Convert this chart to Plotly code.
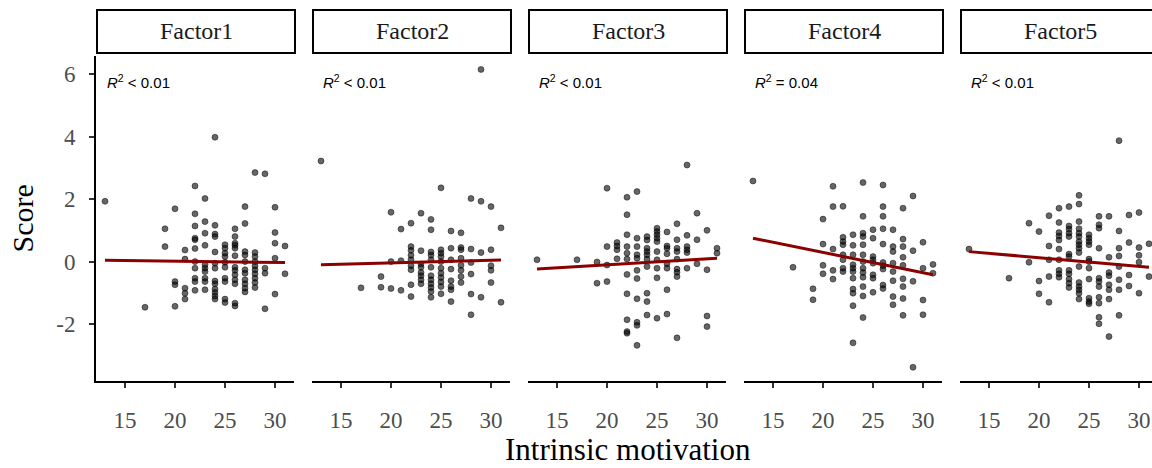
import plotly.graph_objects as go

# Intrinsic motivation score -> factor scores, one dict per factor (x: list of y)
factor1 = {
    13: [1.93],
    17: [-1.46],
    19: [1.05, 0.48],
    20: [1.69, -0.64, -0.74, -1.43],
    21: [0.37, 0.08, -0.85, -1.01, -1.2],
    22: [2.42, 1.53, 1.14, 0.75, 0.70, 0.42, 0.0, -0.21, -0.53, -0.64, -0.92],
    23: [2.02, 1.28, 0.91, 0.52, -0.10, -0.21, -0.32, -0.53, -0.64, -0.90],
    24: [3.98, 1.16, 0.88, 0.80, 0.31, -0.05, -0.21, -0.62, -0.71, -0.88, -0.99, -1.1, -1.2],
    25: [0.54, 0.43, 0.27, 0.16, -0.02, -0.18, -0.53, -0.64, -1.2, -1.31],
    26: [1.05, 0.80, 0.59, 0.52, 0.43, 0.19, -0.18, -0.28, -0.42, -0.58, -0.71, -1.33, -1.42],
    27: [1.76, 1.22, 0.32, 0.21, 0.0, -0.26, -0.37, -0.58, -0.71, -0.85, -0.97],
    28: [2.85, 0.29, 0.16, 0.0, -0.14, -0.26, -0.39, -0.53, -0.67, -0.83],
    29: [2.81, -0.21, -0.37, -1.51],
    30: [1.74, 0.93, 0.59, 0.11, -1.04],
    31: [0.50, -0.39],
}
factor2 = {
    13: [3.22],
    17: [-0.84],
    19: [-0.48, -0.82],
    20: [1.58, 0.0, -0.86],
    21: [1.04, 0.03, -0.92],
    22: [1.23, 0.48, 0.36, 0.20, 0.06, -0.13, -0.26, -0.74, -1.12],
    23: [1.55, 0.35, -0.08, -0.18, -0.35, -0.45, -0.58, -0.71],
    24: [1.35, 1.02, 0.31, 0.21, 0.06, -0.18, -0.45, -0.58, -0.71, -0.83, -0.96, -1.14],
    25: [2.36, 0.38, 0.27, 0.16, 0.0, -0.21, -0.37, -0.51, -0.65, -0.80, -1.03],
    26: [0.98, 0.43, 0.06, -0.24, -0.61, -0.80, -0.90, -1.28],
    27: [0.92, 0.45, 0.38, 0.11, -0.12, -0.28, -0.48, -0.67],
    28: [2.02, 0.40, -0.03, -0.40, -1.04, -1.70],
    29: [6.15, 1.93, 0.29, -1.14],
    30: [1.76, 0.38, -0.13, -0.28, -0.67],
    31: [1.08, -1.30],
}
factor3 = {
    13: [0.06],
    17: [0.06],
    19: [-0.01, -0.69],
    20: [2.35, 0.48, -0.11, -0.64],
    21: [0.61, 0.50, 0.38, 0.09],
    22: [2.06, 1.50, 0.86, 0.48, 0.27, 0.08, -0.41, -1.03, -1.86, -2.24, -2.29],
    23: [2.24, 0.75, 0.48, 0.22, 0.11, -0.28, -0.54, -1.19, -1.94, -2.04, -2.68],
    24: [0.80, 0.69, 0.43, 0.32, 0.22, 0.08, -0.16, -1.01, -1.28, -1.71],
    25: [1.07, 0.96, 0.86, 0.75, 0.64, 0.32, 0.06, -0.21, -0.52, -1.81],
    26: [0.95, 0.50, 0.43, 0.25, -0.07, -0.21, -0.90, -1.68],
    27: [1.21, 0.70, 0.43, 0.32, 0.08, -0.24, -0.34, -0.48, -2.44],
    28: [3.09, 0.84, 0.48, 0.38, 0.29, -0.21],
    29: [1.55, 0.70, -0.07],
    30: [1.00, -0.26, -1.74, -2.08],
    31: [0.43, 0.27],
}
factor4 = {
    13: [2.58],
    17: [-0.18],
    19: [-0.87, -1.22],
    20: [1.36, 0.56, -0.12, -0.39],
    21: [2.41, 1.76, 0.40, -0.28, -0.56],
    22: [1.77, 0.78, 0.64, 0.54, 0.22, 0.06, -0.21, -0.32],
    23: [0.86, 0.52, 0.22, -0.10, -0.21, -0.32, -0.53, -0.88, -1.01, -1.41, -2.60],
    24: [2.53, 1.45, 0.91, 0.80, 0.54, 0.22, 0.0, -0.21, -0.35, -0.50, -0.80, -1.10, -1.79],
    25: [1.02, 0.75, 0.16, 0.06, -0.05, -0.42, -0.53, -0.98],
    26: [2.45, 1.76, 1.45, 1.05, 0.56, -0.03, -0.13, -0.24, -0.75, -0.86],
    27: [1.02, 0.48, 0.32, -0.05, -0.32, -0.61, -1.12, -1.38],
    28: [1.71, 0.72, 0.48, 0.14, -0.12, -0.55, -0.80, -1.18, -1.72],
    29: [2.10, 0.35, -0.63, -3.38],
    30: [0.62, -0.21, -1.23, -1.70],
    31: [-0.09, -0.37],
}
factor5 = {
    13: [0.40],
    17: [-0.53],
    19: [1.23, -0.02],
    20: [0.96, -0.62, -1.03],
    21: [1.47, 0.50, 0.06, -0.48, -1.30],
    22: [1.71, 1.25, 0.93, 0.82, 0.69, 0.40, 0.06, -0.28, -0.39, -0.50],
    23: [1.76, 1.14, 1.04, 0.91, 0.80, 0.24, 0.16, -0.28, -0.39, -0.56, -0.69, -0.83],
    24: [2.12, 1.84, 1.28, 1.05, 0.91, 0.80, 0.64, 0.54, 0.43, 0.29, -0.16, -0.67, -0.80, -0.90, -1.01, -1.20],
    25: [0.86, 0.75, 0.64, 0.54, 0.08, 0.0, -0.21, -0.56, -1.17, -1.28, -1.35],
    26: [1.45, 1.18, 1.07, 0.43, -0.53, -0.64, -0.80, -1.14, -1.33, -1.78, -1.99],
    27: [1.45, 0.14, -0.35, -0.45, -0.74, -0.90, -1.20, -2.40],
    28: [3.87, 0.98, 0.43, 0.18, -0.16, -0.58, -0.90, -1.72],
    29: [1.49, 0.61, -0.43, -0.78],
    30: [1.57, 0.45, 0.20, -0.02, -1.01],
    31: [0.57, -0.48],
}

factor_names = ["Factor1", "Factor2", "Factor3", "Factor4", "Factor5"]
factor_data = [factor1, factor2, factor3, factor4, factor5]
r2_labels = ["&lt; 0.01", "&lt; 0.01", "&lt; 0.01", "= 0.04", "&lt; 0.01"]
# fitted linear trend, evaluated at the lowest and highest motivation score
fit_x = [13, 31]
fit_low = [0.04, -0.10, -0.24, 0.75, 0.32]
fit_high = [-0.03, 0.05, 0.11, -0.42, -0.18]

x_ticks = [15, 20, 25, 30]
y_ticks = [-2, 0, 2, 4, 6]
y_tick_text = ["-2", "0", "2", "4", "6"]

# ---- page geometry (pixels) ----
W, H = 1152, 468
PANEL_LEFT0, PANEL_STEP, PX_PER_UNIT = 96, 216, 10.0
X_MIN, X_MAX = 12.1, 31.9
Y_RANGE = [-3.82, 6.57]
PLOT_TOP, PLOT_BOTTOM = 56.3, 381.0
STRIP_TOP, STRIP_BOTTOM = 10.0, 53.0

SERIF = "Liberation Serif"
SANS = "Liberation Sans"


def fx(p):
    return p / W


def fy(p):
    return 1 - p / H


fig = go.Figure()
layout = dict(
    width=W, height=H,
    margin=dict(l=0, r=0, t=0, b=0),
    paper_bgcolor="white", plot_bgcolor="white",
    showlegend=False,
    shapes=[], annotations=[],
)

for i, (name, data) in enumerate(zip(factor_names, factor_data)):
    n = "" if i == 0 else str(i + 1)
    left = PANEL_LEFT0 + i * PANEL_STEP
    right_full = left + (X_MAX - X_MIN) * PX_PER_UNIT
    right = min(right_full, W)
    x_hi = X_MIN + (right - left) / PX_PER_UNIT

    xs, ys = [], []
    for xv, yl in data.items():
        xs += [xv] * len(yl)
        ys += yl

    fig.add_trace(go.Scatter(
        x=xs, y=ys, mode="markers",
        marker=dict(size=6, color="rgba(0,0,0,0.6)",
                    line=dict(width=1, color="rgba(0,0,0,0.45)")),
        xaxis="x" + n, yaxis="y" + n, hoverinfo="skip",
    ))
    fig.add_trace(go.Scatter(
        x=fit_x, y=[fit_low[i], fit_high[i]], mode="lines",
        line=dict(color="#8B0000", width=3),
        xaxis="x" + n, yaxis="y" + n, hoverinfo="skip",
    ))

    layout["xaxis" + n] = dict(
        domain=[fx(left), fx(right)], range=[X_MIN, x_hi], anchor="y" + n,
        showline=True, linecolor="black", linewidth=2,
        ticks="outside", ticklen=5, tickwidth=1.5, tickcolor="#333333",
        tickvals=x_ticks, showgrid=False, zeroline=False,
        tickfont=dict(family=SERIF, size=23, color="#4d4d4d"),
        ticklabelstandoff=12,
    )
    ycfg = dict(
        domain=[fy(PLOT_BOTTOM), fy(PLOT_TOP)], range=Y_RANGE, anchor="x" + n,
        showgrid=False, zeroline=False,
    )
    if i == 0:
        ycfg.update(
            showline=True, linecolor="black", linewidth=2,
            ticks="outside", ticklen=5, tickwidth=1.5, tickcolor="#333333",
            tickvals=y_ticks, ticktext=y_tick_text,
            tickfont=dict(family=SERIF, size=23, color="#4d4d4d"),
            ticklabelstandoff=9,
        )
    else:
        ycfg.update(visible=False)
    layout["yaxis" + n] = ycfg

    # facet strip
    layout["shapes"].append(dict(
        type="rect", xref="paper", yref="paper",
        x0=fx(left + 1), x1=fx(right_full + 1),
        y0=fy(STRIP_BOTTOM), y1=fy(STRIP_TOP),
        line=dict(color="black", width=2), fillcolor="white", layer="above",
    ))
    layout["annotations"].append(dict(
        text=name, xref="paper", yref="paper",
        x=fx(left + (right_full - left) / 2 + 1), y=fy((STRIP_TOP + STRIP_BOTTOM) / 2),
        xanchor="center", yanchor="middle", showarrow=False,
        font=dict(family=SERIF, size=24, color="#1a1a1a"),
    ))
    # R^2 label
    layout["annotations"].append(dict(
        text="<i>R</i><sup>2</sup> " + r2_labels[i],
        xref="x" + n, yref="y" + n, x=13, y=5.75,
        xanchor="left", yanchor="middle", showarrow=False,
        font=dict(family=SANS, size=15, color="black"),
    ))

layout["annotations"].append(dict(
    text="Score", xref="paper", yref="paper", x=fx(22), y=fy(218.5),
    textangle=-90, xanchor="center", yanchor="middle", showarrow=False,
    font=dict(family=SERIF, size=30, color="black"),
))
layout["annotations"].append(dict(
    text="Intrinsic motivation", xref="paper", yref="paper", x=fx(628), y=fy(449),
    xanchor="center", yanchor="middle", showarrow=False,
    font=dict(family=SERIF, size=31, color="black"),
))

fig.update_layout(**layout)
fig.write_html("out.html")
